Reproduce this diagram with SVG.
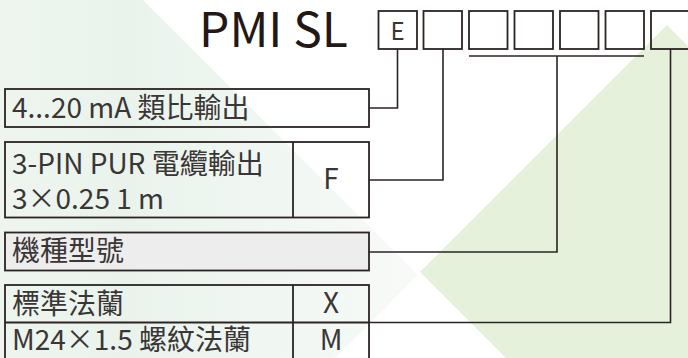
<svg xmlns="http://www.w3.org/2000/svg" width="688" height="358" viewBox="0 0 688 358">
  <defs>
    <linearGradient id="faint" x1="0" y1="0" x2="418" y2="0" gradientUnits="userSpaceOnUse">
      <stop offset="0" stop-color="#eef5ef"/>
      <stop offset="0.3" stop-color="#e9f3ec"/>
      <stop offset="1" stop-color="#f8faf8"/>
    </linearGradient>
  </defs>
  <style>
    .box { fill: none; stroke: #2b2422; stroke-width: 1.8; }
    .grey { fill: #ededed; stroke: #2b2422; stroke-width: 1.8; }
    .wire { fill: none; stroke: #2b2422; stroke-width: 1.6; }
    .t { font-family: "Noto Sans CJK TC", "Noto Sans", sans-serif; font-size: 28px; fill: #3a3636; }
    .c { text-anchor: middle; }
    .title { font-family: "Noto Sans CJK TC", "Noto Sans", sans-serif; font-size: 48px; fill: #231815; }
    .e { font-size: 24px; }
  </style>
  <rect width="688" height="358" fill="#ffffff"/>
  <polygon points="0,0 143,0 418,275 335,358 0,358" fill="url(#faint)"/>
  <polygon points="667,25 914,272 667,519 420,272" fill="#e6f1dc"/>

  <g id="header">
    <text class="title" x="199" y="47">PMI SL</text>
    <rect class="box" x="378.5" y="11" width="38.5" height="38"/>
    <text class="t c e" x="397.5" y="39.5">E</text>
    <rect class="box" x="423.5" y="11" width="38.5" height="38"/>
    <rect class="box" x="469" y="11" width="38.5" height="38"/>
    <rect class="box" x="514.5" y="11" width="38.5" height="38"/>
    <rect class="box" x="560" y="11" width="38.5" height="38"/>
    <rect class="box" x="605.5" y="11" width="38.5" height="38"/>
    <rect class="box" x="651" y="11" width="45" height="38"/>
  </g>

  <g id="connectors">
    <polyline class="wire" points="397.5,49 397.5,108 369,108"/>
    <polyline class="wire" points="443,49 443,180 369,180"/>
    <line class="wire" x1="469" y1="56" x2="644" y2="56"/>
    <polyline class="wire" points="557,56 557,252 369,252"/>
    <polyline class="wire" points="670.5,49 670.5,322.5 369,322.5"/>
  </g>

  <g id="output">
    <rect class="box" x="5" y="89" width="364" height="38"/>
    <text class="t" x="12" y="118">4...20 mA 類比輸出</text>
  </g>

  <g id="cable">
    <rect class="box" x="5" y="142" width="364" height="75.5"/>
    <line class="box" x1="293" y1="142" x2="293" y2="217.5"/>
    <text class="t" x="12" y="174">3-PIN PUR 電纜輸出</text>
    <text class="t" x="12" y="209">3×0.25 1 m</text>
    <text class="t c" x="331" y="188.5">F</text>
  </g>

  <g id="model">
    <rect class="grey" x="5" y="232.5" width="364" height="38"/>
    <text class="t" x="12" y="261">機種型號</text>
  </g>

  <g id="flange">
    <rect class="box" x="5" y="285" width="364" height="90"/>
    <line class="box" x1="5" y1="322.5" x2="369" y2="322.5"/>
    <line class="box" x1="293" y1="285" x2="293" y2="360"/>
    <text class="t" x="12" y="313.5">標準法蘭</text>
    <text class="t c" x="331" y="313">X</text>
    <text class="t" x="12" y="350">M24×1.5 螺紋法蘭</text>
    <text class="t c" x="331" y="350">M</text>
  </g>
</svg>
